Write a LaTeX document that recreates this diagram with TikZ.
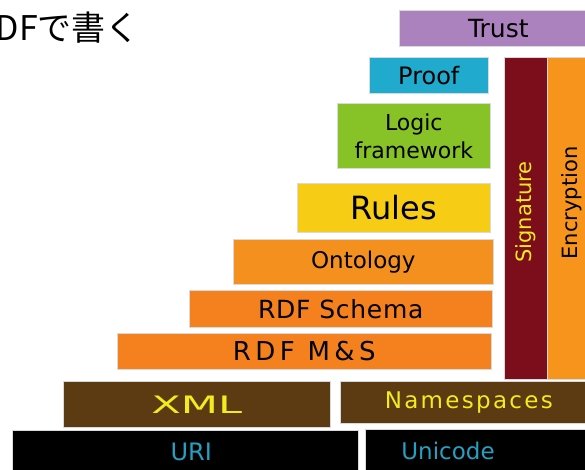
\documentclass[tikz,border=0pt]{standalone}
\usepackage{fontspec}
\setmainfont{DejaVu Sans}
\newfontfamily\jpfont{Noto Sans CJK JP}
\usepackage{tikz}
\usetikzlibrary{positioning}

\definecolor{trustpurple}{RGB}{172,130,190}
\definecolor{proofcyan}{RGB}{32,170,205}
\definecolor{logicgreen}{RGB}{135,194,38}
\definecolor{rulesyellow}{RGB}{246,204,20}
\definecolor{ontoorange}{RGB}{244,145,30}
\definecolor{rdforange}{RGB}{244,128,30}
\definecolor{sigred}{RGB}{124,14,28}
\definecolor{encorange}{RGB}{247,148,28}
\definecolor{xmlbrown}{RGB}{92,58,18}
\definecolor{textyellow}{RGB}{240,236,30}
\definecolor{textcyan}{RGB}{36,160,192}

\begin{document}
\begin{tikzpicture}[x=1pt, y=-1pt,
    layer/.style={draw=white!85!black, line width=0.6pt, inner sep=0pt,
                  anchor=north west, text=black},
    upright/.style={draw=white!85!black, line width=0.6pt, inner sep=0pt,
                  rotate=90, anchor=center}]
    \useasboundingbox[fill=white] (0,0) rectangle (585,469);

    % Title
    \node[anchor=base west, inner sep=0pt, font=\jpfont\fontsize{34}{40}\selectfont] (title) at (-26,40) {RDFで書く};

    % Top of the stack
    \node[layer, fill=trustpurple, minimum width=198pt, minimum height=36pt, font=\fontsize{25}{30}\selectfont] (trust) at (399,10) {Trust};
    \node[layer, fill=proofcyan, minimum width=119pt, minimum height=36pt, font=\fontsize{24}{28}\selectfont] (proof) at (369,57) {Proof};
    \node[layer, fill=logicgreen, minimum width=153pt, minimum height=65pt, align=center, font=\fontsize{22}{28}\selectfont] (logic) at (337,103) {Logic\\framework};
    \node[layer, fill=rulesyellow, minimum width=193pt, minimum height=49pt, font=\fontsize{32}{36}\selectfont] (rules) at (297,183) {Rules};

    % RDF layers
    \node[layer, fill=ontoorange, minimum width=260pt, minimum height=45pt, font=\fontsize{23}{28}\selectfont] (ontology) at (233,239) {Ontology};
    \node[layer, fill=rdforange, minimum width=303pt, minimum height=37pt, font=\fontsize{25}{30}\selectfont\addfontfeature{LetterSpace=3}] (schema) at (189,290) {RDF Schema};
    \node[layer, fill=rdforange, minimum width=374pt, minimum height=36pt, font=\fontsize{26}{30}\selectfont\addfontfeature{LetterSpace=17}] (rdfms) at (117,333) {RDF M\&S};

    % Side columns
    \node[upright, fill=sigred, text=textyellow, minimum width=322pt, minimum height=43pt, font=\fontsize{21}{25}\selectfont] (signature) at (525.5,218) {\hspace*{12pt}Signature};
    \node[upright, fill=encorange, minimum width=322pt, minimum height=50pt, font=\fontsize{21}{25}\selectfont] (encryption) at (572,218) {\hspace*{30pt}Encryption};

    % Base
    \node[layer, fill=xmlbrown, text=textyellow, minimum width=267pt, minimum height=46pt, font=\fontsize{24}{28}\selectfont] (xml) at (63,381) {\scalebox{1.8}[1]{XML}};
    \node[layer, fill=xmlbrown, text=textyellow, minimum width=257pt, minimum height=42pt, font=\fontsize{23}{28}\selectfont\addfontfeature{LetterSpace=10}] (namespaces) at (340,381) {Namespaces};
    \node[layer, fill=black, text=textcyan, minimum width=346pt, minimum height=44pt, font=\fontsize{24}{28}\selectfont] (uri) at (12,430) {\hspace*{12pt}URI};
    \node[layer, fill=black, minimum width=232pt, minimum height=46pt] (unicodebox) at (365,429) {};
    \node[text=textcyan, font=\fontsize{23}{28}\selectfont] (unicode) at (448,451) {Unicode};

\end{tikzpicture}
\end{document}
